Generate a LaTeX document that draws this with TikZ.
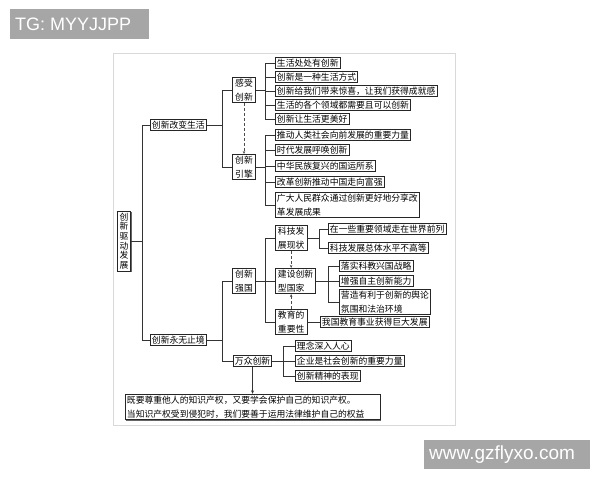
\documentclass[tikz,border=0pt]{standalone}
\usepackage{fontspec}
\newfontfamily\cjk{Noto Sans CJK SC}
\newfontfamily\wmfont{Liberation Sans}
\usetikzlibrary{arrows.meta,shadows}

\begin{document}
\begin{tikzpicture}[x=1pt,y=-1pt,
    box/.style={draw=black!85,line width=0.7pt,fill=white,inner sep=1.6pt,
      font=\cjk\fontsize{8.8}{14}\selectfont,
      drop shadow={shadow xshift=0.7pt,shadow yshift=-0.7pt,fill=black!60,opacity=1}},
    tall/.style={box,align=center,inner xsep=2.6pt},
    link/.style={draw=black!80,line width=0.6pt},
    hint/.style={black!70,densely dashed,line width=0.5pt,-{Stealth[length=3pt,width=2.5pt]}}]
    \useasboundingbox (0,0) rectangle (600,480);

    % Frame of the chart
    \draw[black!15,line width=0.5pt] (113,53) rectangle (455,425);

    % Root
    \node[box,align=center,inner xsep=2.4pt,font=\cjk\fontsize{8.8}{9.7}\selectfont] (root) at (124,241) {创\\新\\驱\\动\\发\\展};

    % Second level
    \node[box,anchor=west] (life) at (150,125) {创新改变生活};
    \node[box,anchor=west] (endless) at (150,340) {创新永无止境};

    % Third level
    \node[tall] (feel) at (244,90) {感受\\创新};
    \node[tall] (engine) at (244,167) {创新\\引擎};
    \node[tall] (strong) at (244,281) {创新\\强国};
    \node[box,anchor=west] (mass) at (233,361) {万众创新};

    % Leaves of feel
    \node[box,anchor=west] (f1) at (275,63) {生活处处有创新};
    \node[box,anchor=west] (f2) at (275,77) {创新是一种生活方式};
    \node[box,anchor=west] (f3) at (275,91) {创新给我们带来惊喜，让我们获得成就感};
    \node[box,anchor=west] (f4) at (275,105) {生活的各个领域都需要且可以创新};
    \node[box,anchor=west] (f5) at (275,119) {创新让生活更美好};

    % Leaves of engine
    \node[box,anchor=west] (e1) at (275,135) {推动人类社会向前发展的重要力量};
    \node[box,anchor=west] (e2) at (275,150) {时代发展呼唤创新};
    \node[box,anchor=west] (e3) at (275,166) {中华民族复兴的国运所系};
    \node[box,anchor=west] (e4) at (275,182) {改革创新推动中国走向富强};
    \node[box,anchor=west,align=left] (e5) at (275,205) {广大人民群众通过创新更好地分享改\\革发展成果};

    % Children of strong
    \node[tall,anchor=west] (tech) at (275,238) {科技发\\展现状};
    \node[box,anchor=west,align=left,inner xsep=2.6pt] (build) at (275,281) {建设创新\\型国家};
    \node[tall,anchor=west] (edu) at (275,322) {教育的\\重要性};

    \node[box,anchor=west] (t1) at (328,229) {在一些重要领域走在世界前列};
    \node[box,anchor=west] (t2) at (328,248) {科技发展总体水平不高等};

    \node[box,anchor=west] (b1) at (339,266) {落实科教兴国战略};
    \node[box,anchor=west] (b2) at (339,281) {增强自主创新能力};
    \node[box,anchor=west,align=left] (b3) at (339,302) {营造有利于创新的舆论\\氛围和法治环境};

    \node[box,anchor=west] (d1) at (320,322) {我国教育事业获得巨大发展};

    % Leaves of mass
    \node[box,anchor=west] (m1) at (295,346) {理念深入人心};
    \node[box,anchor=west] (m2) at (295,361) {企业是社会创新的重要力量};
    \node[box,anchor=west] (m3) at (295,376) {创新精神的表现};

    % Note at the bottom
    \node[box,anchor=west,align=left,text width=252pt] (note) at (125,407) {既要尊重他人的知识产权，又要学会保护自己的知识产权。\\当知识产权受到侵犯时，我们要善于运用法律维护自己的权益};

    % Buses
    \coordinate (rb) at (142,241);
    \draw[link] (root.east) -- (rb);
    \draw[link] (rb) |- (life.west);
    \draw[link] (rb) |- (endless.west);

    \coordinate (lb) at (222,125);
    \draw[link] (life.east) -- (lb);
    \draw[link] (lb) |- (feel.west);
    \draw[link] (lb) |- (engine.west);

    \coordinate (fb) at (265,90);
    \draw[link] (feel.east) -- (fb);
    \foreach \n in {f1,f2,f3,f4,f5}
        \draw[link] (fb) |- (\n.west);

    \coordinate (gb) at (265,167);
    \draw[link] (engine.east) -- (gb);
    \foreach \n in {e1,e2,e3,e4,e5}
        \draw[link] (gb) |- (\n.west);

    \coordinate (eb) at (222,340);
    \draw[link] (endless.east) -- (eb);
    \draw[link] (eb) |- (strong.west);
    \draw[link] (eb) |- (mass.west);

    \coordinate (sb) at (265,281);
    \draw[link] (strong.east) -- (sb);
    \foreach \n in {tech,build,edu}
        \draw[link] (sb) |- (\n.west);

    \coordinate (tb) at (319,238);
    \draw[link] (tech.east) -- (tb);
    \foreach \n in {t1,t2}
        \draw[link] (tb) |- (\n.west);

    \coordinate (bb) at (328,281);
    \draw[link] (build.east) -- (bb);
    \foreach \n in {b1,b2,b3}
        \draw[link] (bb) |- (\n.west);

    \draw[link] (edu.east) -- (d1.west);

    \coordinate (mb) at (283,361);
    \draw[link] (mass.east) -- (mb);
    \foreach \n in {m1,m2,m3}
        \draw[link] (mb) |- (\n.west);

    % Arrows
    \draw[hint] (feel.south) -- (engine.north);
    \draw[hint] (tech.south) -- (tech.south |- build.north);
    \draw[hint] (edu.north) -- (edu.north |- build.south);
    \draw[link,-{Stealth[length=3.5pt,width=3pt]}] (mass.south) -- (mass.south |- note.north);

    % Watermarks
    \fill[black!35] (10,9) rectangle (149,39);
    \node[anchor=west,inner sep=0pt,text=white,font=\wmfont\fontsize{18}{18}\selectfont] (tg) at (15,24) {TG: MYYJJPP};
    \fill[black!35] (424,440) rectangle (590,469);
    \node[anchor=west,inner sep=0pt,text=white,font=\wmfont\fontsize{19}{19}\selectfont] (site) at (429,455) {www.gzflyxo.com};
\end{tikzpicture}
\end{document}
